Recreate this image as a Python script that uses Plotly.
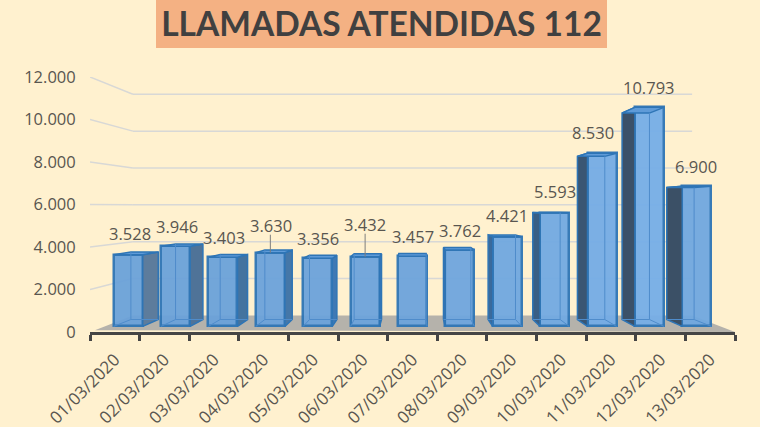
import plotly.graph_objects as go

dates = ["01/03/2020", "02/03/2020", "03/03/2020", "04/03/2020", "05/03/2020", "06/03/2020", "07/03/2020",
         "08/03/2020", "09/03/2020", "10/03/2020", "11/03/2020", "12/03/2020", "13/03/2020"]
calls = [3528, 3946, 3403, 3630, 3356, 3432, 3457, 3762, 4421, 5593, 8530, 10793, 6900]
labels = ["3.528", "3.946", "3.403", "3.630", "3.356", "3.432", "3.457", "3.762", "4.421", "5.593", "8.530", "10.793", "6.900"]
y_ticks = [0, 2000, 4000, 6000, 8000, 10000, 12000]
y_tick_text = ["0", "2.000", "4.000", "6.000", "8.000", "10.000", "12.000"]

# styling
label_dx = [2, 1, 1, 1, 0, 0, 0, 0, 0, 0, -9, 0, -1]
label_dy = [21, 20, 20, 27, 20, 32, 20, 20, 21, 21, 21, 20, 20]
side_colors = ["#5d7c9c", "#4f7398", "#44739f", "#4577a8", "#3f79b4", "#3a78b8", "#3a78b8", "#3a72ae",
               "#3a6a9c", "#3a5f85", "#3a5673", "#3b5169", "#3b5066"]
front_colors = ["#6BA2DA", "#6BA2DA", "#6BA2DA", "#6CA3DB", "#6CA3DB", "#6DA4DC", "#6DA4DC", "#6FA6DE",
                "#70A8E0", "#72AAE2", "#74ACE6", "#76AEE8", "#70A8E0"]
BG, INK, BORDER = "#FFF1CF", "#595650", "#2E75B6"
GRID, FLOOR = "#D8D8D6", "#B5B2AB"
FONT = "Open Sans"

# simple perspective through the plot's own data units
n = len(calls)
VX, VY = n / 2, 5882
S_WALL, S_FRONT, S_BACK = 0.867, 0.955, 0.90
BAR_W = 0.613
PX_PER_UNIT = 255 / 12000


def px(u, s):
    return VX + (u - VX) * s


def py(v, s):
    return VY + (v - VY) * s


fig = go.Figure()
shapes = []

# title plate
shapes.append(dict(type="rect", xref="paper", yref="paper", x0=66 / 645, x1=517 / 645,
                   y0=(332 - 48) / 255, y1=(332 + 5) / 255, fillcolor="#F4B183", line_width=0, layer="below"))
# floor
shapes.append(dict(type="path", xref="x", yref="y", layer="below", line_width=0, fillcolor=FLOOR,
                   path=f"M {px(0, 0.985)} {py(0, 0.985)} L {px(0, S_WALL)} {py(0, S_WALL)} "
                        f"L {px(n, S_WALL)} {py(0, S_WALL)} L {px(n, 1)} {py(0, 1)} Z"))
# wall grid
for t in y_ticks[1:]:
    shapes.append(dict(type="line", xref="x", yref="y", layer="below", line=dict(color=GRID, width=1.5),
                       x0=px(0, 1), y0=py(t, 1), x1=px(0, S_WALL), y1=py(t, S_WALL)))
    shapes.append(dict(type="line", xref="x", yref="y", layer="below", line=dict(color=GRID, width=1.5),
                       x0=px(0, S_WALL), y0=py(t, S_WALL), x1=px(n, S_WALL), y1=py(t, S_WALL)))

# front faces
centers = [i + 0.5 for i in range(n)]
fig.add_trace(go.Bar(
    x=[px(c, S_FRONT) for c in centers],
    y=[v * S_FRONT for v in calls],
    base=py(0, S_FRONT),
    width=BAR_W * S_FRONT,
    marker=dict(color=front_colors, opacity=0.95, line=dict(color=BORDER, width=2.5)),
    customdata=calls, hovertemplate="%{customdata}<extra></extra>", showlegend=False,
))

for i, (c, v) in enumerate(zip(centers, calls)):
    l, r = c - BAR_W / 2, c + BAR_W / 2
    # edge of the box seen from the side
    e = r if c < VX else l
    if abs(c - VX) > 0.1:
        fig.add_trace(go.Scatter(
            x=[px(e, S_FRONT), px(e, S_BACK), px(e, S_BACK), px(e, S_FRONT), px(e, S_FRONT)],
            y=[py(0, S_FRONT), py(0, S_BACK), py(v, S_BACK), py(v, S_FRONT), py(0, S_FRONT)],
            mode="lines", fill="toself", fillcolor=side_colors[i],
            line=dict(color=BORDER, width=1.5), hoverinfo="skip", showlegend=False))
    # top face
    fig.add_trace(go.Scatter(
        x=[px(l, S_FRONT), px(l, S_BACK), px(r, S_BACK), px(r, S_FRONT), px(l, S_FRONT)],
        y=[py(v, S_FRONT), py(v, S_BACK), py(v, S_BACK), py(v, S_FRONT), py(v, S_FRONT)],
        mode="lines", fill="toself", fillcolor="#5F9BD8",
        line=dict(color=BORDER, width=1.5), hoverinfo="skip", showlegend=False))
    # back edges, visible through the translucent front
    o = l if c < VX else r
    fig.add_trace(go.Scatter(
        x=[px(o, S_BACK), px(o, S_BACK), px(r if c < VX else l, S_BACK), None, px(o, S_BACK), px(o, S_FRONT)],
        y=[py(v, S_BACK), py(0, S_BACK), py(0, S_BACK), None, py(0, S_BACK), py(0, S_FRONT)],
        mode="lines", line=dict(color="#4F8CCB", width=1), hoverinfo="skip", showlegend=False))

# leader lines
for i in (3, 5):
    t = py(calls[i], S_FRONT)
    fig.add_trace(go.Scatter(x=[px(centers[i], S_FRONT)] * 2, y=[t, t + (label_dy[i] - 9) / PX_PER_UNIT],
                             mode="lines", line=dict(color="#7F7F7F", width=1), hoverinfo="skip", showlegend=False))

annotations = [dict(x=px(c, S_FRONT), y=py(v, S_FRONT), text=t, showarrow=False, xanchor="center", yanchor="middle",
                    xshift=dx, yshift=dy, font=dict(family=FONT, size=16.5, color=INK))
               for c, v, t, dx, dy in zip(centers, calls, labels, label_dx, label_dy)]

fig.update_layout(
    width=760, height=427, autosize=False, paper_bgcolor=BG, plot_bgcolor=BG,
    margin=dict(l=90, r=25, t=77, b=95, pad=0, autoexpand=False), bargap=0, barmode="overlay", showlegend=False,
    title=dict(text="<b>LLAMADAS ATENDIDAS 112</b>", x=381.5 / 760, xanchor="center", y=1 - 24 / 427, yanchor="middle",
               font=dict(family="Lato", size=33.5, color="#404040")),
    shapes=shapes, annotations=annotations,
    xaxis=dict(range=[0, n], tickmode="array", tickvals=centers, ticktext=dates, tickangle=-45, automargin=False,
               ticks="outside", ticklen=8, tickcolor="rgba(0,0,0,0)", showgrid=False, zeroline=False, showline=True,
               linecolor="#454545", linewidth=3,
               tickfont=dict(family=FONT, size=17, color=INK),
               minor=dict(tickmode="array", tickvals=list(range(n + 1)), ticks="outside", ticklen=6, tickwidth=3,
                          tickcolor="#454545", showgrid=False)),
    yaxis=dict(range=[0, 12000], tickmode="array", tickvals=y_ticks, ticktext=y_tick_text, showgrid=False, automargin=False,
               zeroline=False, showline=False, ticks="outside", ticklen=10, tickcolor="rgba(0,0,0,0)",
               tickfont=dict(family=FONT, size=16.5, color=INK)),
)

fig.write_html("out.html", config={"displayModeBar": False},
               post_script="document.body.style.margin='0';document.documentElement.style.background='#FFF1CF';document.documentElement.style.overflow='hidden';")
